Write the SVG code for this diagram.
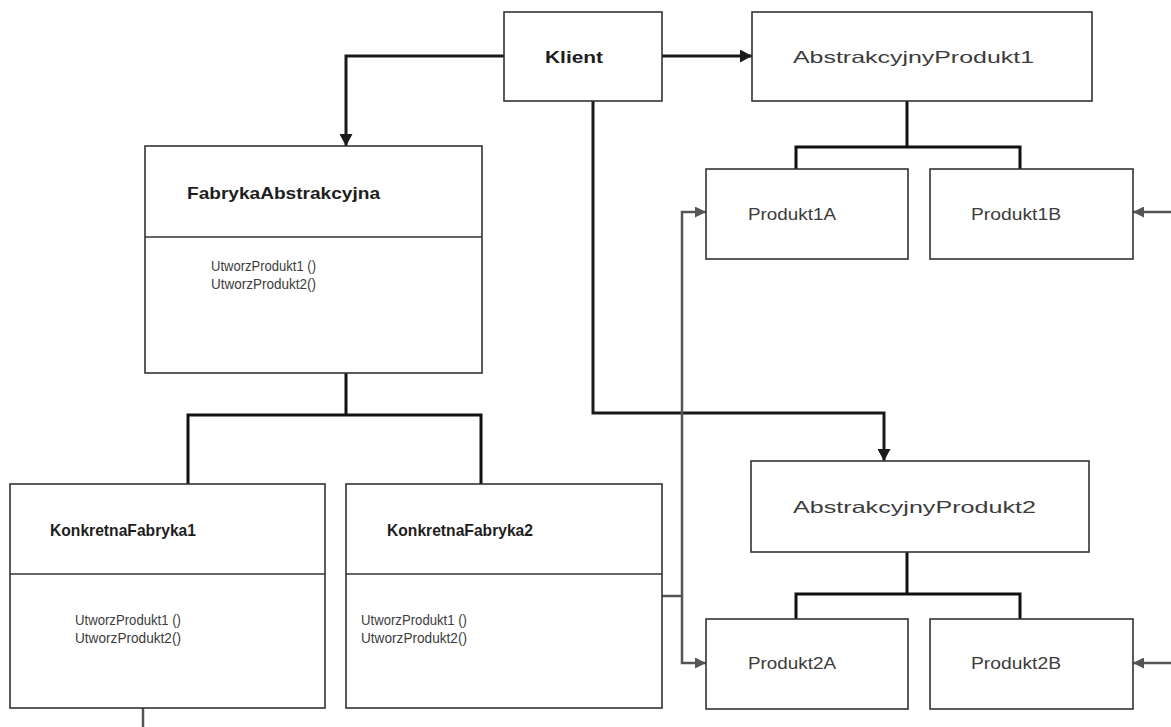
<svg xmlns="http://www.w3.org/2000/svg" width="1171" height="727" viewBox="0 0 1171 727">
  <style>
    .box { fill: #ffffff; stroke: #333333; stroke-width: 1.6; }
    .div { stroke: #333333; stroke-width: 1.6; }
    .title { font-family: "Liberation Sans", "DejaVu Sans", sans-serif; font-size: 16.5px; font-weight: bold; fill: #1e1e1e; }
    .label { font-family: "Liberation Sans", "DejaVu Sans", sans-serif; font-size: 16.5px; fill: #3c3c3c; }
    .method { font-family: "Liberation Sans", "DejaVu Sans", sans-serif; font-size: 15.5px; fill: #3c3c3c; }
    .strong { fill: none; stroke: #1a1a1a; stroke-width: 3; }
    .tree { fill: none; stroke: #111111; stroke-width: 3; }
    .link { fill: none; stroke: #555555; stroke-width: 2.5; }
  </style>
  <defs>
    <marker id="headBlack" markerUnits="userSpaceOnUse" markerWidth="13" markerHeight="13" refX="12" refY="6.5" orient="auto">
      <path d="M0,0 L12,6.5 L0,13 z" fill="#1a1a1a"/>
    </marker>
    <marker id="headGrey" markerUnits="userSpaceOnUse" markerWidth="11" markerHeight="11" refX="11" refY="5.5" orient="auto">
      <path d="M0,0 L11,5.5 L0,11 z" fill="#555555"/>
    </marker>
  </defs>

  <g id="connectors">
    <!-- client associations -->
    <path class="strong" d="M504,56 H346 V146" marker-end="url(#headBlack)"/>
    <path class="strong" d="M662,56 H752" marker-end="url(#headBlack)"/>
    <path class="strong" d="M593,101 V413 H884 V461" marker-end="url(#headBlack)"/>
    <!-- inheritance trees -->
    <path class="tree" d="M907,101 V147"/>
    <path class="tree" d="M796,169 V147 H1020 V169"/>
    <path class="tree" d="M907,552 V594"/>
    <path class="tree" d="M796,619 V594 H1020 V619"/>
    <path class="tree" d="M346,373 V415"/>
    <path class="tree" d="M188,484 V415 H481 V484"/>
    <!-- factory creates products -->
    <path class="link" d="M662,596 H682 V212 H706" marker-end="url(#headGrey)"/>
    <path class="link" d="M682,596 V663 H706" marker-end="url(#headGrey)"/>
    <path class="link" d="M1171,212 H1133" marker-end="url(#headGrey)"/>
    <path class="link" d="M1171,663 H1133" marker-end="url(#headGrey)"/>
    <path class="link" d="M143,708 V727"/>
  </g>

  <g id="klient">
    <rect class="box" x="504" y="12" width="158" height="89"/>
    <text class="title" x="545" y="63" textLength="58" lengthAdjust="spacingAndGlyphs">Klient</text>
  </g>

  <g id="abstrakcyjny-produkt1">
    <rect class="box" x="752" y="12" width="340" height="89"/>
    <text class="label" x="793" y="63" textLength="241" lengthAdjust="spacingAndGlyphs">AbstrakcyjnyProdukt1</text>
  </g>

  <g id="produkt1a">
    <rect class="box" x="706" y="169" width="202" height="90"/>
    <text class="label" x="748" y="220" textLength="88" lengthAdjust="spacingAndGlyphs">Produkt1A</text>
  </g>

  <g id="produkt1b">
    <rect class="box" x="930" y="169" width="203" height="90"/>
    <text class="label" x="971" y="220" textLength="90" lengthAdjust="spacingAndGlyphs">Produkt1B</text>
  </g>

  <g id="fabryka-abstrakcyjna">
    <rect class="box" x="145" y="146" width="337" height="227"/>
    <line class="div" x1="145" y1="237" x2="482" y2="237"/>
    <text class="title" x="187" y="199" textLength="193" lengthAdjust="spacingAndGlyphs">FabrykaAbstrakcyjna</text>
    <text class="method" x="211" y="271" textLength="105" lengthAdjust="spacingAndGlyphs">UtworzProdukt1 ()</text>
    <text class="method" x="211" y="289" textLength="105" lengthAdjust="spacingAndGlyphs">UtworzProdukt2()</text>
  </g>

  <g id="abstrakcyjny-produkt2">
    <rect class="box" x="751" y="461" width="338" height="91"/>
    <text class="label" x="793" y="513" textLength="243" lengthAdjust="spacingAndGlyphs">AbstrakcyjnyProdukt2</text>
  </g>

  <g id="produkt2a">
    <rect class="box" x="706" y="619" width="202" height="90"/>
    <text class="label" x="748" y="669" textLength="88" lengthAdjust="spacingAndGlyphs">Produkt2A</text>
  </g>

  <g id="produkt2b">
    <rect class="box" x="930" y="619" width="203" height="90"/>
    <text class="label" x="971" y="669" textLength="90" lengthAdjust="spacingAndGlyphs">Produkt2B</text>
  </g>

  <g id="konkretna-fabryka1">
    <rect class="box" x="10" y="484" width="315" height="224"/>
    <line class="div" x1="10" y1="574" x2="325" y2="574"/>
    <text class="title" x="50" y="536" textLength="146" lengthAdjust="spacingAndGlyphs">KonkretnaFabryka1</text>
    <text class="method" x="75" y="625" textLength="106" lengthAdjust="spacingAndGlyphs">UtworzProdukt1 ()</text>
    <text class="method" x="75" y="643" textLength="106" lengthAdjust="spacingAndGlyphs">UtworzProdukt2()</text>
  </g>

  <g id="konkretna-fabryka2">
    <rect class="box" x="346" y="484" width="316" height="224"/>
    <line class="div" x1="346" y1="574" x2="662" y2="574"/>
    <text class="title" x="387" y="536" textLength="146" lengthAdjust="spacingAndGlyphs">KonkretnaFabryka2</text>
    <text class="method" x="361" y="625" textLength="106" lengthAdjust="spacingAndGlyphs">UtworzProdukt1 ()</text>
    <text class="method" x="361" y="643" textLength="106" lengthAdjust="spacingAndGlyphs">UtworzProdukt2()</text>
  </g>
</svg>
